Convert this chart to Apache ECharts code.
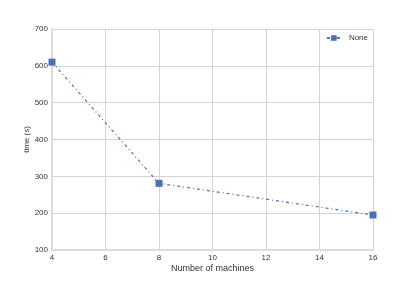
<!DOCTYPE html>
<html><head><meta charset="utf-8">
<script src="https://cdn.jsdelivr.net/npm/echarts@6/dist/echarts.min.js"></script>
<style>html,body{margin:0;padding:0;background:#fff}#c{width:415px;height:286px}</style>
</head><body><div id="c"></div>
<script>
const machines = [4, 8, 16];
const times = [610, 281, 195];
const seriesName = 'None';
const chart = echarts.init(document.getElementById('c'));
chart.setOption({
  animation: false,
  textStyle: {fontFamily: 'Liberation Sans, Arial, sans-serif'},
  grid: {left: 52, right: 42, top: 29, bottom: 36},
  legend: {
    right: 42, top: 29, itemWidth: 14, itemHeight: 7, itemGap: 4,
    textStyle: {fontSize: 8, color: '#333', padding: [0, 0, 0, 3]},
    data: [seriesName]
  },
  xAxis: {
    type: 'value', min: 4, max: 16, interval: 2,
    name: 'Number of machines', nameLocation: 'middle', nameGap: 14,
    nameMoveOverlap: false,
    nameTextStyle: {fontSize: 9, color: '#333'},
    axisLine: {lineStyle: {color: '#dcdcdc', width: 2}},
    axisTick: {show: false},
    axisLabel: {fontSize: 8, color: '#333', margin: 4},
    splitLine: {lineStyle: {color: '#d4d4d4', width: 1}}
  },
  yAxis: {
    type: 'value', min: 100, max: 700, interval: 100,
    name: 'time (s)', nameLocation: 'middle', nameGap: 21,
    nameMoveOverlap: false,
    nameTextStyle: {fontSize: 8, color: '#333'},
    axisLine: {show: true, lineStyle: {color: '#dcdcdc', width: 2}},
    axisTick: {show: false},
    axisLabel: {fontSize: 8, color: '#333', margin: 4},
    splitLine: {lineStyle: {color: '#d4d4d4', width: 1}}
  },
  series: [{
    name: seriesName, type: 'line',
    data: machines.map((m, i) => [m, times[i]]),
    symbol: 'rect', symbolSize: 7,
    itemStyle: {color: '#4a70b5'},
    lineStyle: {color: '#4a70b5', width: 1.2, type: [3, 3, 1, 3]}
  }]
});
</script></body></html>
